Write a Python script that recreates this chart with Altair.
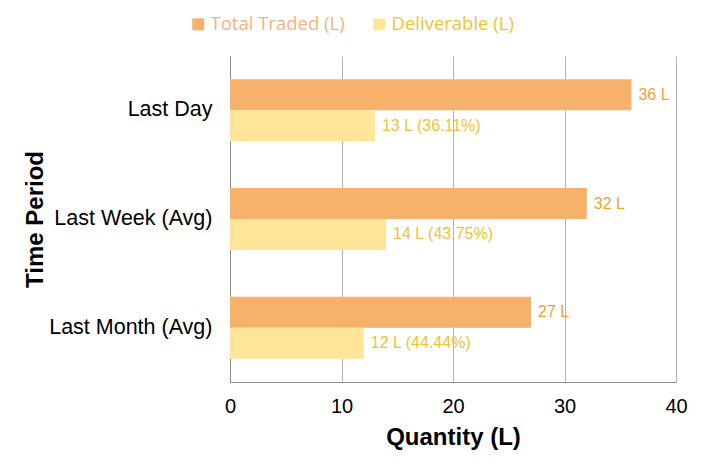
import altair as alt
import pandas as pd

periods = ["Last Day", "Last Week (Avg)", "Last Month (Avg)"]
series_names = ["Total Traded (L)", "Deliverable (L)"]
total_traded = [36, 32, 27]
deliverable = [13, 14, 12]
total_labels = ["36 L", "32 L", "27 L"]
deliverable_labels = ["13 L (36.11%)", "14 L (43.75%)", "12 L (44.44%)"]
x_ticks = [0, 10, 20, 30, 40]

rows = []
for p, t, d, tl, dl in zip(periods, total_traded, deliverable, total_labels, deliverable_labels):
    rows.append({"period": p, "series": series_names[0], "value": t, "label": tl})
    rows.append({"period": p, "series": series_names[1], "value": d, "label": dl})
df = pd.DataFrame(rows)

FONT = "Liberation Sans"

y_enc = alt.Y(
    "period:N",
    sort=periods,
    scale=alt.Scale(paddingInner=0.43, paddingOuter=0.215),
    axis=alt.Axis(
        title="Time Period",
        titleFont=FONT,
        titleFontSize=24,
        titleFontWeight="bold",
        titleColor="#000000",
        titleAngle=270,
        titleX=-188,
        titleY=163,
        titleAlign="center",
        titleBaseline="alphabetic",
        labelFont=FONT,
        labelFontSize=21.5,
        labelColor="#000000",
        labelPadding=18,
        labelLimit=400,
        ticks=False,
        grid=False,
        domainColor="#8C8C8C",
        domainWidth=1,
    ),
)

x_enc = alt.X(
    "value:Q",
    scale=alt.Scale(domain=[0, 40], nice=False),
    axis=alt.Axis(
        values=x_ticks,
        title="Quantity (L)",
        titleFont=FONT,
        titleFontSize=24,
        titleFontWeight="bold",
        titleColor="#000000",
        titleX=223,
        titleY=62,
        titleAlign="center",
        titleBaseline="alphabetic",
        labelFont=FONT,
        labelFontSize=20,
        labelColor="#000000",
        labelPadding=14,
        labelFlush=False,
        ticks=False,
        grid=True,
        gridColor="#B4B4B4",
        gridWidth=1,
        domainColor="#8C8C8C",
        domainWidth=1,
    ),
)

yoff = alt.YOffset("series:N", sort=series_names, scale=alt.Scale(paddingInner=0, paddingOuter=0))

bars = alt.Chart(df).mark_bar().encode(
    y=y_enc,
    x=x_enc,
    yOffset=yoff,
    color=alt.Color(
        "series:N",
        sort=series_names,
        scale=alt.Scale(domain=series_names, range=["#F6B26B", "#FFE599"]),
        legend=alt.Legend(
            title=None,
            orient="none",
            direction="horizontal",
            legendX=-41,
            legendY=-41,
            symbolType="square",
            symbolSize=144,
            symbolStrokeWidth=0,
            labelFont="Open Sans",
            labelFontSize=18.5,
            labelOffset=3,
            columnPadding=25,
            labelColor={"expr": "datum.label == 'Total Traded (L)' ? '#F4B183' : '#F1C232'"},
        ),
    ),
)

texts = alt.Chart(df).mark_text(
    align="left", baseline="middle", dx=7, font=FONT, fontSize=16
).encode(
    y=alt.Y("period:N", sort=periods),
    x=alt.X("value:Q"),
    yOffset=alt.YOffset("series:N", sort=series_names),
    text="label:N",
    color=alt.condition(
        alt.datum.series == series_names[0], alt.value("#F5A030"), alt.value("#F1C232")
    ),
)

chart = (
    alt.layer(bars, texts)
    .properties(
        width=446,
        height=326,
        autosize=alt.AutoSizeParams(type="none"),
        padding={"left": 222, "top": 48, "right": 18, "bottom": 78},
        background="#FFFFFF",
    )
    .configure_view(strokeWidth=0)
)

chart.save("out.html", embed_options={"renderer": "svg", "actions": False})
